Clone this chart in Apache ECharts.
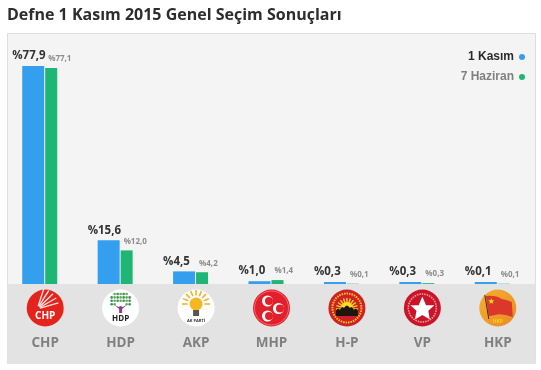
<!DOCTYPE html>
<html lang="tr">
<head>
    <meta charset="utf-8">
    <title>Defne 1 Kasım 2015 Genel Seçim Sonuçları</title>
    <script src="https://cdn.jsdelivr.net/npm/echarts@6/dist/echarts.min.js"></script>
    <style>
        html, body { margin: 0; padding: 0; background: #fff; }
        #main { width: 541px; height: 370px; }
    </style>
</head>
<body>
<div id="main"></div>
<script type="text/javascript">
    const parties = ['CHP', 'HDP', 'AKP', 'MHP', 'H-P', 'VP', 'HKP'];
    const kasim = [77.9, 15.6, 4.5, 1.0, 0.3, 0.3, 0.1];
    const haziran = [77.1, 12.0, 4.2, 1.4, 0.1, 0.3, 0.1];
    const logoValues = [0.7, 0.7, 0.7, 0.7, 0.7, 0.7, 0.7];

    const FONT = '"Open Sans", sans-serif';

    function pct(p) {
        return '%' + p.value.toFixed(1).replace('.', ',');
    }

    function circle(r, fill, cx, cy) {
        return { type: 'circle', shape: { cx: cx || 0, cy: cy || 0, r: r }, style: { fill: fill } };
    }
    function ring(r, stroke, width, dash) {
        return { type: 'circle', shape: { cx: 0, cy: 0, r: r }, style: { fill: 'none', stroke: stroke, lineWidth: width, lineDash: dash || null } };
    }
    function txt(s, y, size, fill) {
        return { type: 'text', style: { text: s, x: 0, y: y, fill: fill, font: 'bold ' + size + 'px "Open Sans", sans-serif', textAlign: 'center', textVerticalAlign: 'middle' } };
    }
    function ray(x0, y0, angle, r0, r1, stroke, width) {
        const t = angle * Math.PI / 180;
        return { type: 'line', shape: { x1: x0 + r0 * Math.cos(t), y1: y0 + r0 * Math.sin(t), x2: x0 + r1 * Math.cos(t), y2: y0 + r1 * Math.sin(t) }, style: { stroke: stroke, lineWidth: width } };
    }
    function star(r, fill, cx, cy) {
        return { type: 'path', shape: { pathData: 'M0,-10 L2.9,-3.1 L9.5,-3.1 L4.7,1.2 L5.9,8.1 L0,4.5 L-5.9,8.1 L-4.7,1.2 L-9.5,-3.1 L-2.9,-3.1 Z', layout: 'center', x: (cx || 0) - r, y: (cy || 0) - r, width: 2 * r, height: 2 * r }, style: { fill: fill } };
    }

    // rough party badges, 18.5px radius
    const logoParts = {
        CHP: function () {
            const rays = [-72, -58, -44, -30, -16].map(function (a) {
                return ray(-8, 1, a, 3, 22, '#fbe3de', 1.4);
            });
            return [circle(18.5, '#e4241c')].concat(rays, [txt('CHP', 8, 10, '#fff')]);
        },
        HDP: function () {
            const parts = [circle(18.5, '#fff')];
            for (let row = 0; row < 4; row++) {
                for (let col = -3 + (row === 0 ? 1 : 0); col <= 3 - (row === 0 ? 1 : 0); col++) {
                    if (row === 3 && Math.abs(col) < 2) continue;
                    parts.push(circle(1.3, col % 2 ? '#3f8f4d' : '#5fae5f', col * 3, -14 + row * 3.4));
                }
            }
            parts.push({ type: 'path', shape: { pathData: 'M-6,-3 L-1.5,1 L-1.5,5 L1.5,5 L1.5,1 L6,-3 L2,-1 L0,-2 L-2,-1 Z' }, style: { fill: '#8a3a8f' } });
            parts.push(txt('HDP', 10.5, 8, '#222'));
            return parts;
        },
        AKP: function () {
            const parts = [circle(18.5, '#fff')];
            for (let a = 0; a < 9; a++) {
                parts.push(ray(0, -4, -180 + a * 22.5, 8.5, 14, '#f0ae20', 1.5));
            }
            parts.push(circle(6.5, '#f6b61e', 0, -4));
            parts.push({ type: 'rect', shape: { x: -3, y: 2, width: 6, height: 6 }, style: { fill: '#5a5648' } });
            parts.push(txt('AK PARTİ', 13, 4, '#333'));
            return parts;
        },
        MHP: function () {
            return [circle(18.5, '#e2202c'), ring(17, '#f27a80', 0.8),
                circle(5.5, '#fff', -4, -7), circle(4, '#e2202c', -2.5, -7),
                circle(5.5, '#fff', -4, 8), circle(4, '#e2202c', -2.5, 8),
                circle(5.5, '#fff', 7, 0.5), circle(4, '#e2202c', 8.5, 0.5)];
        },
        'H-P': function () {
            const parts = [circle(18.5, '#cf2027'), ring(14.5, '#f3c71c', 2, [1.5, 1])];
            for (let a = 0; a < 11; a++) {
                parts.push(ray(0, 1, -180 + a * 18, 5, 11, '#f6d21a', 1.4));
            }
            parts.push(circle(6, '#f8dc2a', 0, 0));
            parts.push({ type: 'path', shape: { pathData: 'M-11,8 L-11,3 Q-9,-1 -7,2 Q-5,-3 -3,0 Q0,-5 3,0 Q5,-3 7,2 Q9,-1 11,3 L11,8 Z' }, style: { fill: '#1d1712' } });
            return parts;
        },
        VP: function () {
            return [circle(18.5, '#cc1428'), ring(14, '#eaa0a6', 1.6, [1.5, 1]), star(12, '#fff')];
        },
        HKP: function () {
            return [
                {
                    type: 'circle', shape: { cx: 0, cy: 0, r: 18.5 },
                    style: { fill: new echarts.graphic.LinearGradient(0, 0, 1, 1, [{ offset: 0, color: '#f5b02e' }, { offset: 1, color: '#e88a26' }]) }
                },
                { type: 'path', shape: { pathData: 'M-12,-12 Q-2,-13 4,-9 Q10,-8 14,-6 L15,9 Q4,5 -3,7 Q-6,8 -9,8 Z' }, style: { fill: '#d9382a' } },
                { type: 'line', shape: { x1: -13, y1: -13, x2: -9, y2: 11 }, style: { stroke: '#4a2a18', lineWidth: 1 } },
                star(3, '#f6d21a', -6.5, -7),
                txt('HKP', 14, 5, '#f6d21a')
            ];
        }
    };

    const chart = echarts.init(document.getElementById('main'));
    chart.setOption({
        animation: false,
        textStyle: { fontFamily: FONT },
        title: {
            text: 'Defne 1 Kasım 2015 Genel Seçim Sonuçları',
            left: 2, top: 2,
            textStyle: { fontFamily: FONT, fontSize: 16, fontWeight: 'bold', color: '#2d2d2d' }
        },
        legend: {
            orient: 'vertical', right: 11, top: 45,
            align: 'right', icon: 'circle',
            itemWidth: 6, itemHeight: 6, itemGap: 6,
            selectedMode: false,
            data: [
                { name: '1 Kasım', textStyle: { color: '#2b2b2b' } },
                { name: '7 Haziran', textStyle: { color: '#808080' } }
            ],
            textStyle: { fontFamily: '"Liberation Sans", Arial, sans-serif', fontSize: 12, fontWeight: 'bold', lineHeight: 14 }
        },
        graphic: [{
            type: 'rect', z: -1, silent: true,
            shape: { x: 7.5, y: 33.5, width: 528, height: 330 },
            style: { fill: '#f4f4f4', stroke: '#dedede', lineWidth: 1 }
        }],
        grid: [
            { left: 2, top: 60, width: 528, height: 224 },
            { left: 7.5, top: 284, width: 528, height: 80, show: true, backgroundColor: '#e3e3e3', borderWidth: 0 }
        ],
        xAxis: [
            { type: 'category', gridIndex: 0, data: parties, axisLine: { show: false }, axisTick: { show: false }, axisLabel: { show: false } },
            {
                type: 'category', gridIndex: 1, data: parties,
                axisLine: { show: false }, axisTick: { show: false },
                axisLabel: { inside: true, margin: 14, fontFamily: FONT, fontSize: 13.5, fontWeight: 'bold', color: '#808080' }
            }
        ],
        yAxis: [
            { type: 'value', gridIndex: 0, min: 0, max: 80, show: false },
            { type: 'value', gridIndex: 1, min: 0, max: 1, show: false }
        ],
        series: [
            {
                name: '1 Kasım', type: 'bar', xAxisIndex: 0, yAxisIndex: 0,
                data: kasim, barWidth: 22, barGap: '4.5%', barMinHeight: 2, z: 3,
                itemStyle: { color: '#349fee' },
                label: {
                    show: true, position: [-10, -10], align: 'left', verticalAlign: 'middle',
                    formatter: pct, fontFamily: FONT, fontSize: 11.5, fontWeight: 'bold', color: '#333'
                }
            },
            {
                name: '7 Haziran', type: 'bar', xAxisIndex: 0, yAxisIndex: 0,
                data: haziran, barWidth: 12, barGap: '4.5%', z: 3,
                itemStyle: { color: '#1fb574' },
                label: {
                    show: true, position: [3, -9], align: 'left', verticalAlign: 'middle',
                    formatter: pct, fontFamily: FONT, fontSize: 8, fontWeight: 'bold', color: '#8c8c8c'
                }
            },
            {
                type: 'custom', xAxisIndex: 1, yAxisIndex: 1, silent: true, z: 4,
                data: logoValues,
                renderItem: function (params, api) {
                    const c = api.coord([params.dataIndex, api.value(1)]);
                    return { type: 'group', x: c[0], y: c[1], children: logoParts[parties[params.dataIndex]]() };
                },
                encode: { x: 0, y: 1 }
            }
        ]
    });
</script>
</body>
</html>
